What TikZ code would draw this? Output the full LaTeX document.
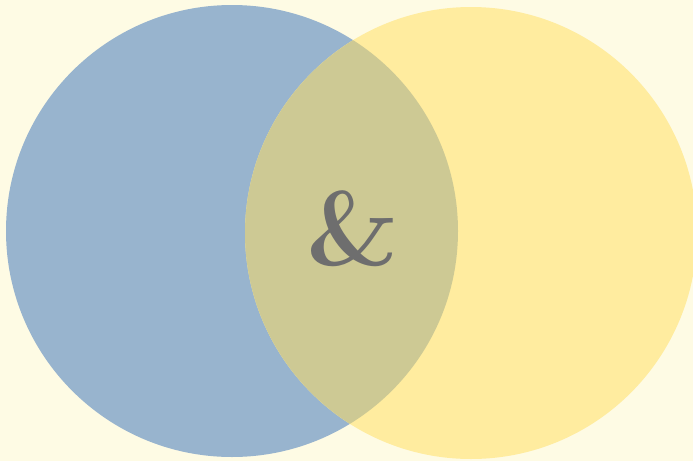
\documentclass[tikz,border=0pt]{standalone}
\definecolor{bgc}{HTML}{FEFBE4}
\definecolor{bluec}{HTML}{98B4CE}
\definecolor{yellowc}{HTML}{FFEC9F}
\definecolor{overc}{HTML}{CDC994}
\definecolor{ampc}{HTML}{6E6E6E}
\begin{document}
\begin{tikzpicture}[x=1pt,y=-1pt]
\fill[bgc] (0,0) rectangle (693,461);
\useasboundingbox (0,0) rectangle (693,461);
\coordinate (cb) at (232,231);
\coordinate (cy) at (471,233);
\fill[bluec] (cb) circle[radius=226];
\fill[yellowc] (cy) circle[radius=226];
\begin{scope}
\clip (cb) circle[radius=226];
\fill[overc] (cy) circle[radius=226];
\end{scope}
\node[inner sep=0pt, text=ampc, font=\fontsize{106}{106}\selectfont\bfseries] (amp) at (352.5,229) {\&};
\end{tikzpicture}
\end{document}
